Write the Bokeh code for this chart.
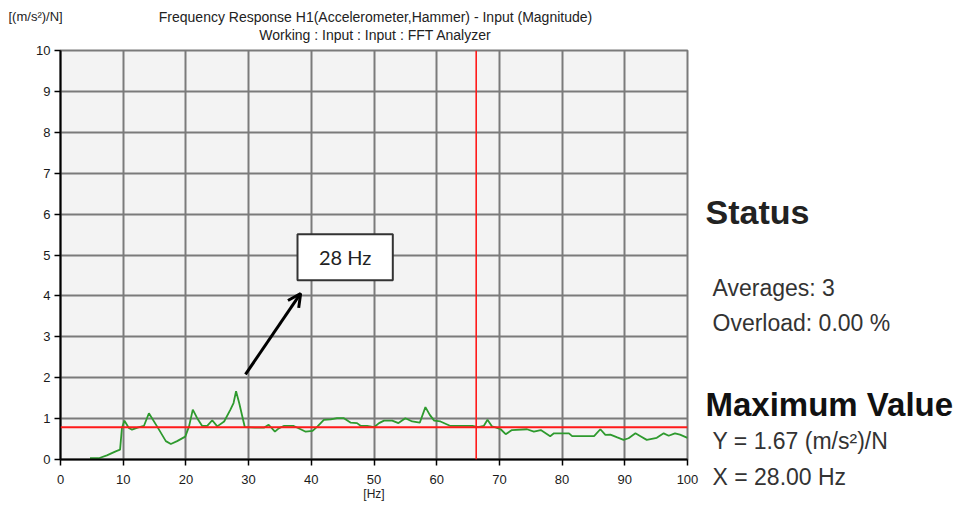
from bokeh.plotting import figure
from bokeh.models import Span, Arrow, OpenHead, Range1d, FixedTicker
from bokeh.layouts import column, row
from bokeh.core.properties import value
from bokeh.embed import file_html
from bokeh.resources import INLINE

# ---- data ----
freq = [4.7, 6.1, 7.4, 8.8, 9.5, 9.8, 10.2, 10.9, 11.4, 12.3, 13.3, 14.1, 15.4, 16.8, 17.6, 18.6,
        19.9, 20.5, 21.1, 21.8, 22.6, 23.4, 24.2, 25.0, 26.1, 27.1, 27.6, 28.0, 28.5, 29.0, 29.4,
        31.0, 32.5, 33.2, 34.2, 34.8, 35.6, 37.2, 38.3, 39.1, 40.2, 41.0, 42.0, 43.1, 44.1, 45.2,
        46.3, 47.3, 47.9, 48.9, 50.0, 50.8, 51.6, 52.9, 53.9, 55.0, 56.1, 57.3, 58.2, 58.9, 59.6,
        60.6, 62.2, 64.0, 65.7, 66.6, 67.5, 68.1, 68.8, 69.5, 70.2, 71.0, 72.0, 74.4, 75.5, 76.6,
        78.1, 78.7, 81.1, 81.6, 85.1, 86.1, 86.9, 87.7, 88.8, 89.8, 90.6, 91.7, 92.5, 93.5, 95.1,
        96.2, 97.0, 98.0, 98.8, 100.0]
magnitude = [0.03, 0.03, 0.10, 0.20, 0.24, 0.77, 0.95, 0.77, 0.73, 0.78, 0.82, 1.13, 0.81, 0.45,
             0.38, 0.45, 0.56, 0.81, 1.22, 1.01, 0.82, 0.82, 0.96, 0.81, 0.93, 1.22, 1.38, 1.67,
             1.38, 1.05, 0.79, 0.78, 0.78, 0.85, 0.68, 0.76, 0.82, 0.82, 0.74, 0.68, 0.70, 0.81,
             0.97, 0.98, 1.01, 1.01, 0.90, 0.89, 0.82, 0.82, 0.79, 0.89, 0.95, 0.95, 0.89, 1.01,
             0.93, 0.90, 1.28, 1.09, 0.95, 0.93, 0.82, 0.82, 0.82, 0.79, 0.82, 0.97, 0.81, 0.78,
             0.74, 0.62, 0.72, 0.74, 0.68, 0.72, 0.57, 0.64, 0.64, 0.57, 0.57, 0.74, 0.60, 0.61,
             0.54, 0.48, 0.52, 0.64, 0.57, 0.48, 0.53, 0.64, 0.58, 0.64, 0.61, 0.53]
x_ticks = [0, 10, 20, 30, 40, 50, 60, 70, 80, 90, 100]
y_ticks = [0, 1, 2, 3, 4, 5, 6, 7, 8, 9, 10]
level_line = 0.79      # horizontal red cursor
cursor_freq = 66.3     # vertical red cursor
averages = 3
overload = 0.00
title_main = "Frequency Response H1(Accelerometer,Hammer) - Input (Magnitude)"
title_sub = "Working : Input : Input : FFT Analyzer"
y_unit = "[(m/s²)/N]"
x_unit = "[Hz]"
note_text = "28 Hz"

# annotation geometry (data units)
box_l, box_r, box_b, box_t = 37.8, 53.0, 4.38, 5.51
arr_x0, arr_y0, arr_x1, arr_y1 = 29.5, 2.08, 38.3, 4.06

# ---- layout constants (pixels) ----
W, H = 961, 506
TOP_H = 44
MAIN_W = 700
FL, FR, FB = 60, 687, 459
FONT = "Liberation Sans"


def blank_fig(x0, x1, y0, y1):
    f = figure(width=x1 - x0, height=y1 - y0, output_backend="svg", toolbar_location=None,
               x_range=Range1d(x0, x1), y_range=Range1d(y1, y0),
               x_axis_location=None, y_axis_location=None,
               min_border=0, min_border_left=0, min_border_right=0,
               min_border_top=0, min_border_bottom=0)
    f.grid.visible = False
    f.outline_line_color = None
    f.background_fill_color = "white"
    f.border_fill_color = "white"
    if "frame_align" in f.properties():
        f.frame_align = False
    return f


def put(f, cx, cy, text, size, bold=False, align="left", color="#333333"):
    f.text(x=[cx], y=[cy], text=[text], text_font=value(FONT), text_font_size=size,
           text_font_style="bold" if bold else "normal", text_color=color,
           text_align=align, text_baseline="middle")


# ---- top strip: titles and unit ----
top = blank_fig(0, W, 0, TOP_H)
put(top, 375, 16, title_main, "14px", align="center", color="#222222")
put(top, 375, 34, title_sub, "14px", align="center", color="#222222")
put(top, 8, 16, y_unit, "13px", color="#222222")

# ---- main plot ----
p = figure(width=MAIN_W, height=H - TOP_H, output_backend="svg", toolbar_location=None,
           x_range=Range1d(0, 100), y_range=Range1d(0, 10),
           min_border_left=FL, min_border_right=MAIN_W - FR,
           min_border_top=50 - TOP_H, min_border_bottom=H - FB)
p.background_fill_color = "#f3f3f3"
p.border_fill_color = "white"
p.outline_line_color = "#7a7a7a"
p.outline_line_width = 2

p.xaxis.ticker = FixedTicker(ticks=x_ticks)
p.yaxis.ticker = FixedTicker(ticks=y_ticks)
for ax in (p.xaxis, p.yaxis):
    ax.axis_line_color = "black"
    ax.axis_line_width = 2
    ax.major_tick_line_color = "black"
    ax.major_tick_line_width = 1.5
    ax.major_tick_in = 0
    ax.major_tick_out = 6
    ax.minor_tick_line_color = None
    ax.major_label_text_font = FONT
    ax.major_label_text_font_size = "13px"
    ax.major_label_text_color = "#1a1a1a"
p.xaxis.major_label_standoff = 9
p.yaxis.major_label_standoff = 4
p.xaxis.axis_label = x_unit
p.xaxis.axis_label_text_font = FONT
p.xaxis.axis_label_text_font_size = "12px"
p.xaxis.axis_label_text_font_style = "normal"
p.xaxis.axis_label_text_color = "#222222"
p.xaxis.axis_label_standoff = 0

for g in (p.xgrid, p.ygrid):
    g.grid_line_color = "#7a7a7a"
    g.grid_line_width = 2
    g.grid_line_alpha = 1.0

p.line(freq, magnitude, line_color="#2e9a2e", line_width=1.8)

p.add_layout(Span(location=level_line, dimension="width", line_color="#ff1a1a", line_width=2))
p.add_layout(Span(location=cursor_freq, dimension="height", line_color="#ff1a1a", line_width=1.6))

p.quad(left=[box_l], right=[box_r], bottom=[box_b], top=[box_t],
       fill_color="white", line_color="#333333", line_width=2)
p.text(x=[(box_l + box_r) / 2], y=[(box_b + box_t) / 2], text=[note_text],
       text_font=value("Lato"), text_font_size="20px", text_color="#222222",
       text_align="center", text_baseline="middle")
p.add_layout(Arrow(end=OpenHead(size=13, line_width=3, line_color="black"),
                   x_start=arr_x0, y_start=arr_y0, x_end=arr_x1, y_end=arr_y1,
                   line_width=3, line_color="black"))

# ---- right status panel ----
side = blank_fig(MAIN_W, W, TOP_H, H)
i_max = max(range(len(magnitude)), key=lambda i: magnitude[i])
put(side, 705, 211, "Status", "34px", bold=True, color="#222222")
put(side, 712, 287, f"Averages: {averages}", "23px")
put(side, 712, 322, f"Overload:  {overload:.2f} %", "23px")
put(side, 705, 404, "Maximum Value", "33px", bold=True, color="#111111")
put(side, 712, 440, f"Y = {magnitude[i_max]:.2f} (m/s²)/N", "23px")
put(side, 712, 476, f"X = {freq[i_max]:.2f} Hz", "23px")

layout = column(top, row(p, side, spacing=0), spacing=0)
open("out.html", "w").write(file_html(layout, INLINE))
